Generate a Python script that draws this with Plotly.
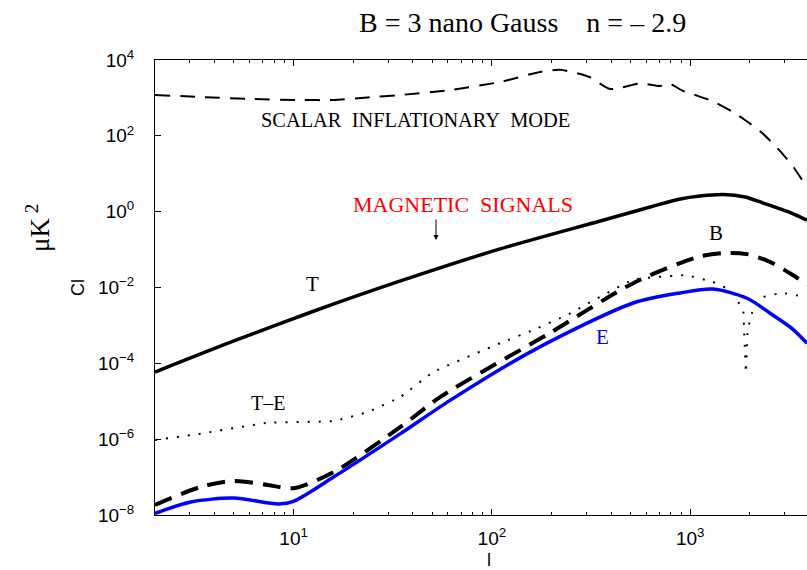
import plotly.graph_objects as go

# Multipole values and spectra (micro-K^2)
l_scalar = [2, 3.4, 6.1, 10.8, 15.9, 23.6, 34.6, 61.8, 110, 175, 221, 310, 395, 560, 706, 774,
            922, 1059, 1291, 1610, 1829, 2307, 2838, 3342, 3884]
cl_scalar = [1194, 1057, 938, 881, 881, 1026, 1194, 1618, 2630, 4830, 5550, 3565, 1718, 2400, 2060, 2471,
             1520, 1194, 830, 452, 295, 119, 40, 14.2, 4.4]

l_T = [2, 5.0, 12.3, 34.6, 110, 352, 629, 891, 1122, 1466, 1892, 2333, 3243, 3884]
cl_T = [5.9e-5, 3.9e-4, 2.26e-3, 0.0149, 0.104, 0.568, 1.33, 2.16, 2.59, 2.84, 2.44, 1.69, 0.92, 0.6]

l_B = [2, 3.4, 5.0, 7.4, 10, 15.9, 34.6, 55, 196, 516, 1084, 1466, 1936, 2530, 3305, 3884]
cl_B = [1.84e-8, 5.5e-8, 7.9e-8, 6.2e-8, 5.1e-8, 1.35e-7, 2.1e-6, 1.3e-5, 6.3e-4, 0.013,
        0.063, 0.081, 0.076, 0.047, 0.021, 0.012]

l_E = [2, 3.03, 5.0, 8.4, 10, 15.9, 34.6, 61.8, 162, 516, 891, 1306, 1936, 2530, 3243, 3884]
cl_E = [1.1e-8, 2.2e-8, 2.8e-8, 1.95e-8, 2.3e-8, 1.0e-7, 1.4e-6, 1.07e-5, 2.2e-4, 3.9e-3,
        7.2e-3, 9.1e-3, 5.2e-3, 2.1e-3, 8.5e-4, 3.4e-4]

l_TE = [2, 3.4, 7.4, 15.9, 23.6, 34.6, 50.7, 110, 162, 240, 516, 950, 1306, 1589, 1850, 1870, 1892,
        1910, 1950, 2051, 2124, 2333, 2938, 3800]
cl_TE = [9.5e-7, 1.4e-6, 2.7e-6, 3.0e-6, 5.2e-6, 1.3e-5, 5.9e-5, 3.4e-4, 7.6e-4, 1.9e-3, 0.016, 0.021,
         0.014, 8.5e-3, 2.5e-3, 7.6e-4, 1.9e-4, 5.6e-5, 7.6e-4, 2.1e-3, 3.9e-3, 5.6e-3, 7.2e-3, 5.6e-3]

y_ticks = [1e-8, 1e-6, 1e-4, 1e-2, 1e0, 1e2, 1e4]
y_ticktext = ["10<sup>−8</sup>", "10<sup>−6</sup>", "10<sup>−4</sup>", "10<sup>−2</sup>",
              "10<sup>0</sup>", "10<sup>2</sup>", "10<sup>4</sup>"]
x_ticks = [10, 100, 1000]
x_ticktext = ["10<sup>1</sup>", "10<sup>2</sup>", "10<sup>3</sup>"]
x_minor = [m * d for d in (1, 10, 100, 1000) for m in range(2, 10) if m * d < 4000]

X0, X1, Y0, Y1 = 155, 807, 60, 515


def px(x):
    return (x - X0) / (X1 - X0)


def py(y):
    return (Y1 - y) / (Y1 - Y0)


fig = go.Figure()
fig.add_trace(go.Scatter(x=l_scalar, y=cl_scalar, mode="lines",
                         line=dict(color="black", width=2, dash="15px,10px", shape="spline", smoothing=0.6)))
fig.add_trace(go.Scatter(x=l_T, y=cl_T, mode="lines",
                         line=dict(color="black", width=3.5, shape="spline", smoothing=0.8)))
fig.add_trace(go.Scatter(x=l_B, y=cl_B, mode="lines",
                         line=dict(color="black", width=4, dash="18px,10px", shape="spline", smoothing=0.8)))
fig.add_trace(go.Scatter(x=l_TE, y=cl_TE, mode="lines",
                         line=dict(color="black", width=2, dash="2px,9px", shape="spline", smoothing=0.3)))
fig.add_trace(go.Scatter(x=l_E, y=cl_E, mode="lines",
                         line=dict(color="#0000ff", width=3.5, shape="spline", smoothing=0.8)))

serif = "Liberation Serif"
sans = "Liberation Sans"
ann = [
    dict(x=px(522), y=py(22), text="B = 3 nano Gauss\u00a0\u00a0\u00a0 n = – 2.9",
         font=dict(family=serif, size=28, color="black")),
    dict(x=px(415), y=py(120), text="SCALAR\u00a0 INFLATIONARY\u00a0 MODE",
         font=dict(family=serif, size=20.4, color="black")),
    dict(x=px(463), y=py(204), text="MAGNETIC\u00a0 SIGNALS",
         font=dict(family=serif, size=22, color="red")),
    dict(x=px(312), y=py(284), text="T", font=dict(family=serif, size=21, color="black")),
    dict(x=px(716), y=py(233), text="B", font=dict(family=serif, size=21, color="black")),
    dict(x=px(602), y=py(337), text="E", font=dict(family=serif, size=21, color="#0000ff")),
    dict(x=px(268), y=py(403), text="T–E", font=dict(family=serif, size=20, color="black")),
    dict(x=px(78), y=py(288), text="Cl", textangle=-90, font=dict(family=sans, size=18, color="black")),
    dict(x=px(38), y=py(228), text="μK<sup> 2</sup>", textangle=-90,
         font=dict(family=serif, size=27, color="black")),
    dict(x=px(489), y=py(560), text="l", font=dict(family=sans, size=18, color="black")),
]
for a in ann:
    a.update(xref="paper", yref="paper", showarrow=False, xanchor="center", yanchor="middle")
ann.append(dict(x=px(436), y=py(240), xref="paper", yref="paper", text="", showarrow=True,
                ax=0, ay=-22, arrowhead=2, arrowsize=1, arrowwidth=1, arrowcolor="black"))

fig.update_layout(
    width=807, height=570, autosize=False,
    margin=dict(l=X0, r=0, t=Y0, b=570 - Y1, pad=0),
    paper_bgcolor="white", plot_bgcolor="white",
    showlegend=False,
    annotations=ann,
    xaxis=dict(type="log", range=[0.30103, 3.5893], showgrid=False, zeroline=False,
               showline=True, linecolor="black", linewidth=1, mirror="ticks",
               ticks="inside", ticklen=6, tickwidth=1, tickcolor="black",
               tickvals=x_ticks, ticktext=x_ticktext, ticklabelstandoff=6,
               tickfont=dict(family=sans, size=19, color="black"),
               minor=dict(tickvals=x_minor, ticks="inside", ticklen=3, tickwidth=1,
                          tickcolor="black", showgrid=False)),
    yaxis=dict(type="log", range=[-8, 4], showgrid=False, zeroline=False,
               showline=True, linecolor="black", linewidth=1,
               ticks="inside", ticklen=6, tickwidth=1, tickcolor="black",
               tickvals=y_ticks, ticktext=y_ticktext, ticklabelstandoff=16,
               tickfont=dict(family=sans, size=19, color="black")),
)

fig.write_html("out.html")
